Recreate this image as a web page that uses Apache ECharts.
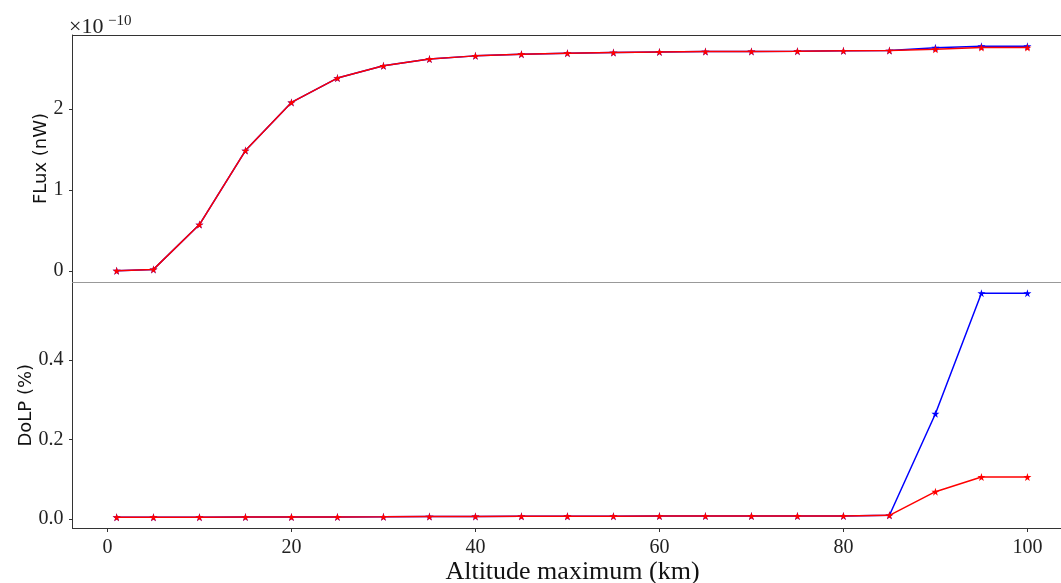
<!DOCTYPE html>
<html>
<head>
<meta charset="utf-8">
<script src="https://cdn.jsdelivr.net/npm/echarts@6/dist/echarts.min.js"></script>
<style>html,body{margin:0;padding:0;background:#fff}#c{width:1061px;height:583px}</style>
</head>
<body>
<div id="c"></div>
<script>
// ---- data ----
const altitude = [1,5,10,15,20,25,30,35,40,45,50,55,60,65,70,75,80,85,90,95,100];
// flux in units of 1e-10 nW
const fluxBlue = [0.004,0.021,0.574,1.487,2.081,2.381,2.532,2.615,2.655,2.676,2.688,2.696,2.704,2.708,2.710,2.713,2.717,2.720,2.755,2.774,2.774];
const fluxRed  = [0.004,0.021,0.574,1.487,2.081,2.381,2.532,2.615,2.655,2.676,2.688,2.696,2.704,2.708,2.710,2.713,2.717,2.720,2.737,2.757,2.757];
const dolpBlue = [0.0043,0.0043,0.0045,0.0048,0.0050,0.0052,0.0055,0.0060,0.0065,0.0068,0.0070,0.0072,0.0073,0.0074,0.0075,0.0076,0.0078,0.0093,0.2650,0.5686,0.5686];
const dolpRed  = [0.0043,0.0043,0.0045,0.0048,0.0050,0.0052,0.0055,0.0060,0.0065,0.0068,0.0070,0.0072,0.0073,0.0074,0.0075,0.0076,0.0078,0.0093,0.0688,0.1057,0.1057];
const xTicks = [0,20,40,60,80,100];
const fluxTicks = [0,1,2];
const dolpTicks = [0,0.2,0.4];
const xLabel = 'Altitude maximum (km)';
const fluxLabel = 'FLux (nW)';
const dolpLabel = 'DoLP (%)';

function pad(arrs){
  const all = [].concat(...arrs);
  const mn = Math.min(...all), mx = Math.max(...all), r = mx - mn;
  return [mn - 0.05*r, mx + 0.05*r];
}
const fluxExt = pad([fluxBlue, fluxRed]);
const dolpExt = pad([dolpBlue, dolpRed]);
const toPairs = (ys) => altitude.map((x,i)=>[x, ys[i]]);

const STAR = 'path://M50,0 L61,35 L98,35 L68,57 L79,91 L50,70 L21,91 L32,57 L2,35 L39,35 Z';
const serif = 'Liberation Serif';
const sans = 'DejaVu Sans';
const dark = '#333';

function line(name, data, color, xi, yi, z){
  return {
    name, type:'line', data, xAxisIndex:xi, yAxisIndex:yi, z,
    symbol: STAR, symbolSize: 8, showSymbol:true,
    lineStyle:{color, width:1.5}, itemStyle:{color},
    animation:false
  };
}

const chart = echarts.init(document.getElementById('c'), null, {renderer:'canvas'});
const xMin = -3.8, xMax = 104.9;
chart.setOption({
  animation:false,
  backgroundColor:'#fff',
  grid:[
    {left:72.5, top:35, width:1000, height:247, outerBoundsMode:'none', containLabel:false},
    {left:72.5, top:282, width:1000, height:246.5, outerBoundsMode:'none', containLabel:false}
  ],
  xAxis:[
    {gridIndex:0, type:'value', position:'bottom', min:xMin, max:xMax,
     axisLine:{show:true, onZero:false, lineStyle:{color:'#999', width:1}},
     axisTick:{show:false}, axisLabel:{show:false}, splitLine:{show:false}},
    {gridIndex:0, type:'value', position:'top', min:xMin, max:xMax,
     axisLine:{show:true, onZero:false, lineStyle:{color:dark, width:1}},
     axisTick:{show:false}, axisLabel:{show:false}, splitLine:{show:false}},
    {gridIndex:1, type:'value', position:'bottom', min:xMin, max:xMax,
     axisLine:{show:true, onZero:false, lineStyle:{color:dark, width:1}},
     axisTick:{show:true, inside:false, length:3.5, lineStyle:{color:dark}, customValues:xTicks},
     axisLabel:{show:true, margin:9, color:'#222', fontFamily:serif, fontSize:20, customValues:xTicks,
                formatter:(v)=>String(v)},
     splitLine:{show:false},
     name:xLabel, nameLocation:'middle', nameGap:30.5, nameMoveOverlap:false,
     nameTextStyle:{fontFamily:serif, fontSize:26, color:'#111'}}
  ],
  yAxis:[
    {gridIndex:0, type:'value', position:'left', min:fluxExt[0], max:fluxExt[1],
     axisLine:{show:true, onZero:false, lineStyle:{color:dark, width:1}},
     axisTick:{show:true, inside:false, length:3.5, lineStyle:{color:dark}, customValues:fluxTicks},
     axisLabel:{show:true, margin:9, color:'#222', fontFamily:serif, fontSize:20, customValues:fluxTicks,
                formatter:(v)=>String(Math.round(v))},
     splitLine:{show:false},
     name:fluxLabel, nameLocation:'middle', nameGap:22, nameMoveOverlap:false,
     nameTextStyle:{fontFamily:sans, fontSize:18, color:'#111'}},
    {gridIndex:1, type:'value', position:'left', min:dolpExt[0], max:dolpExt[1],
     axisLine:{show:true, onZero:false, lineStyle:{color:dark, width:1}},
     axisTick:{show:true, inside:false, length:3.5, lineStyle:{color:dark}, customValues:dolpTicks},
     axisLabel:{show:true, margin:9, color:'#222', fontFamily:serif, fontSize:20, customValues:dolpTicks,
                formatter:(v)=>v.toFixed(1)},
     splitLine:{show:false},
     name:dolpLabel, nameLocation:'middle', nameGap:37.5, nameMoveOverlap:false,
     nameTextStyle:{fontFamily:sans, fontSize:18, color:'#111'}}
  ],
  graphic:[
    {type:'text', left:69, top:16, silent:true,
     style:{text:'×10', font:'22px "Liberation Serif"', fill:'#222'}},
    {type:'text', left:108, top:14, silent:true,
     style:{text:'−10', font:'15px "Liberation Serif"', fill:'#222'}}
  ],
  series:[
    line('blue flux', toPairs(fluxBlue), '#0000ff', 0, 0, 2),
    line('red flux', toPairs(fluxRed), '#ff0000', 0, 0, 3),
    line('blue dolp', toPairs(dolpBlue), '#0000ff', 2, 1, 2),
    line('red dolp', toPairs(dolpRed), '#ff0000', 2, 1, 3)
  ]
});
</script>
</body>
</html>
